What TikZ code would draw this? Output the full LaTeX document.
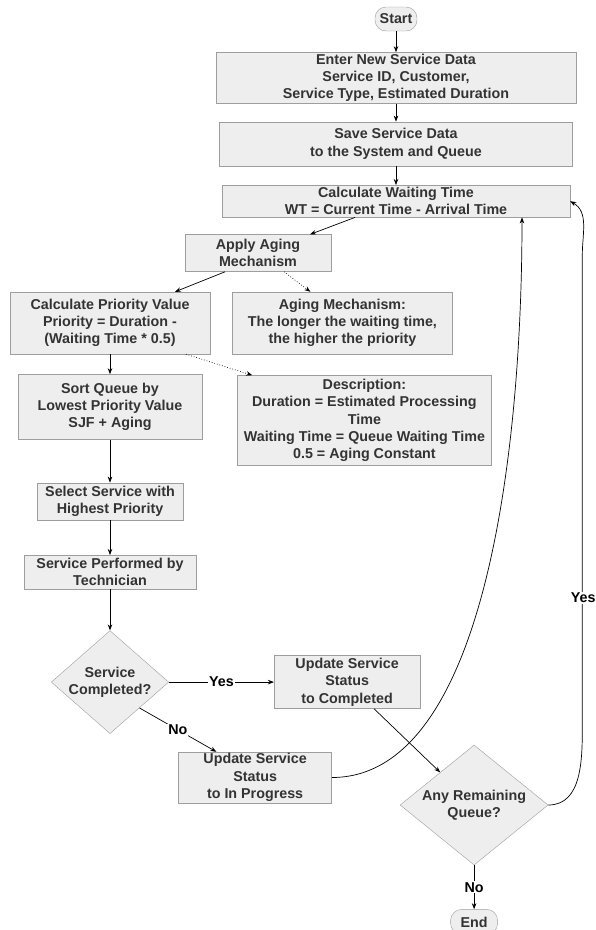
\documentclass[tikz,border=0pt]{standalone}
\usepackage{fontspec}
\setmainfont{Liberation Sans}
\usetikzlibrary{positioning, arrows.meta, shapes.geometric, calc}

\definecolor{boxfill}{HTML}{EEEEEE}
\definecolor{boxline}{HTML}{9E9E9E}
\definecolor{boxtext}{HTML}{333333}

\begin{document}
\begin{tikzpicture}[x=1pt, y=1pt, node distance=18pt,
  every node/.style={align=center, font=\fontsize{14.3}{17.2}\selectfont\bfseries},
  procbox/.style={draw=boxline, fill=boxfill, text=boxtext, inner sep=1pt},
  termbox/.style={procbox, rounded corners=11pt},
  decbox/.style={procbox, diamond, inner sep=0pt},
  flow/.style={-{Stealth[length=6pt,width=4.5pt]}, line width=0.7pt},
  note/.style={flow, dotted},
  elabel/.style={fill=white, text=black, inner sep=1pt}]
  \useasboundingbox (0,0) rectangle (595,-930);

  % Main column
  \node[termbox, minimum width=42pt, minimum height=24pt] (start) at (396,-19) {Start};
  \node[procbox, minimum width=360pt, minimum height=51pt, below=21pt of start] (enter) {Enter New Service Data\\Service ID, Customer,\\Service Type, Estimated Duration};
  \node[procbox, minimum width=353pt, minimum height=44pt, below=18pt of enter] (save) {Save Service Data\\to the System and Queue};
  \node[procbox, minimum width=348pt, minimum height=32pt, below=19pt of save] (waittime) {Calculate Waiting Time\\WT = Current Time - Arrival Time};

  % Aging and priority
  \node[procbox, minimum width=146pt, minimum height=37pt, below=17pt of waittime, xshift=-138pt] (aging) {Apply Aging\\Mechanism};
  \node[procbox, minimum width=200pt, minimum height=62pt, below=20pt of aging, xshift=-148pt] (priority) {Calculate Priority Value\\Priority = Duration -\\(Waiting Time * 0.5)};
  \node[procbox, minimum width=220pt, minimum height=62pt, right=22pt of priority] (agingnote) {Aging Mechanism:\\The longer the waiting time,\\the higher the priority};
  \node[procbox, minimum width=184pt, minimum height=65pt, below=20pt of priority] (sortq) {Sort Queue by\\Lowest Priority Value\\SJF + Aging};
  \node[procbox, minimum width=254pt, minimum height=90pt, below=21pt of agingnote, xshift=22pt] (desc) {Description:\\Duration = Estimated Processing\\Time\\Waiting Time = Queue Waiting Time\\0.5 = Aging Constant};
  \node[procbox, minimum width=146pt, minimum height=37pt, below=43pt of sortq] (select) {Select Service with\\Highest Priority};
  \node[procbox, minimum width=172pt, minimum height=34pt, below=35pt of select] (perform) {Service Performed by\\Technician};

  % Decisions
  \node[decbox, aspect=1.14, minimum width=116pt, minimum height=100pt, below=41pt of perform] (done) {Service\\Completed?};
  \node[procbox, minimum width=146pt, minimum height=53pt, right=105pt of done] (completed) {Update Service\\Status\\to Completed};
  \node[procbox, minimum width=153pt, minimum height=51pt, below=43pt of completed, xshift=-92pt] (progress) {Update Service\\Status\\to In Progress};
  \node[decbox, aspect=1.23, minimum width=148pt, minimum height=120pt, below=36pt of completed, xshift=127pt] (remain) {Any Remaining\\Queue?};
  \node[termbox, minimum width=47pt, minimum height=25pt, below=44pt of remain] (finish) {End};

  % Arrows
  \draw[flow] (start) -- (enter);
  \draw[flow] (enter) -- (save);
  \draw[flow] (save) -- (waittime);
  \draw[flow] ([xshift=-41pt]waittime.south) -- ([xshift=52pt]aging.north);
  \draw[flow] ([xshift=-33pt]aging.south) -- ([xshift=65pt]priority.north);
  \draw[note] ([xshift=26pt]aging.south) -- ([xshift=-32pt]agingnote.north);
  \draw[flow] (priority) -- (sortq);
  \draw[note] ([xshift=76pt]priority.south) -- ([xshift=15pt]desc.north west);
  \draw[flow] (sortq) -- (select);
  \draw[flow] (select) -- (perform);
  \draw[flow] (perform) -- (done);
  \draw[flow] (done) -- node[elabel] {Yes} (completed);
  \draw[flow] (done.south east) -- node[elabel] {No} ([xshift=38pt]progress.north west);
  \draw[flow] ([xshift=27pt]completed.south) -- (remain);
  \draw[flow] (remain) -- node[elabel] {No} (finish);

  % Loops back
  \draw[flow] (progress.east) .. controls +(153pt,0pt) and +(0pt,-234pt) .. ([xshift=126pt]waittime.south);
  \draw[flow] (remain.east) to[out=0, in=-90] ++(34pt,80pt) -- node[elabel, pos=0.27, xshift=1pt] {Yes} ++(0pt,470pt) to[out=90, in=-30] (waittime.east);
\end{tikzpicture}
\end{document}
